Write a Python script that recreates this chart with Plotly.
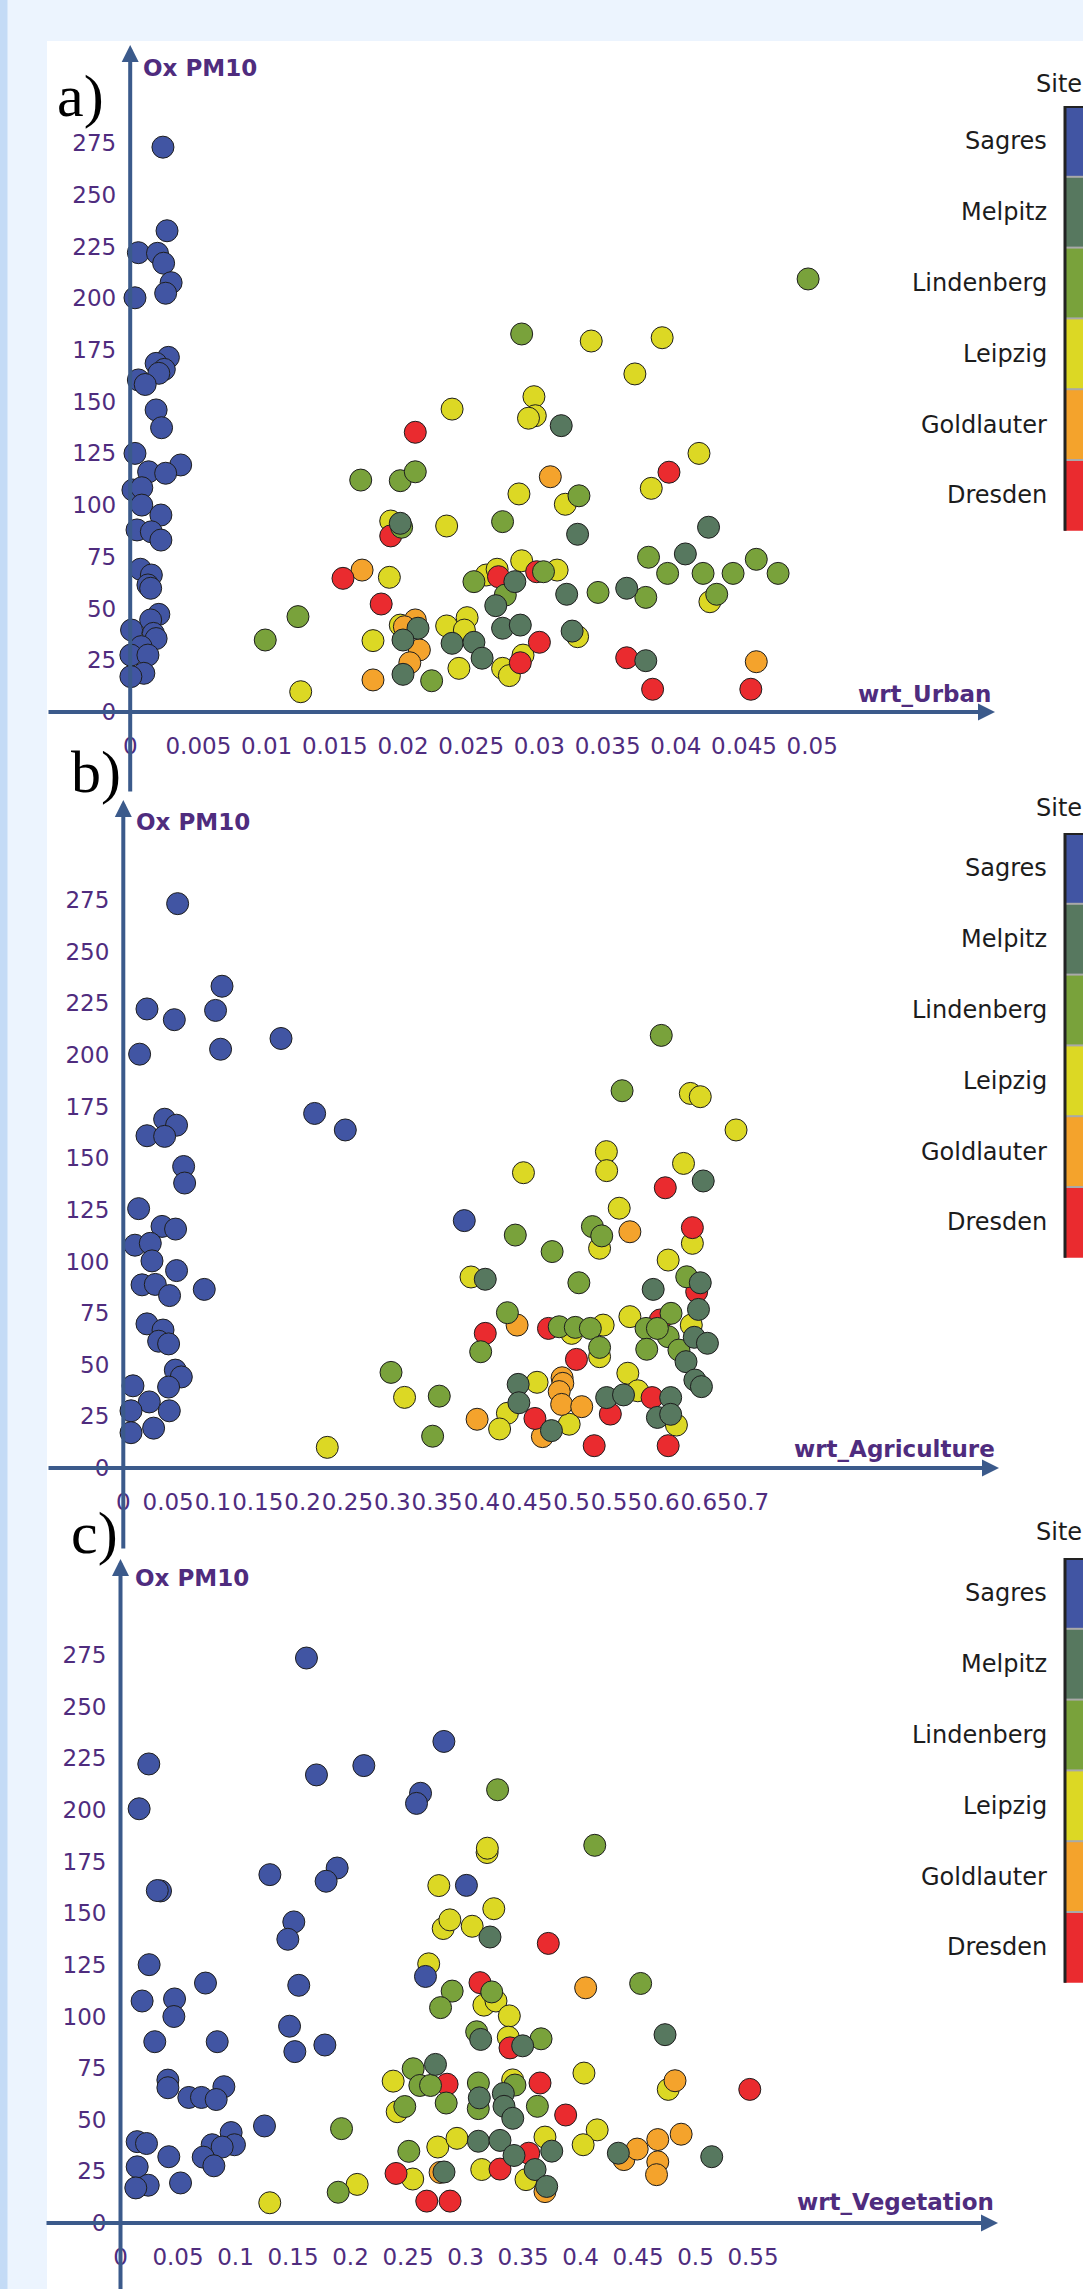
import plotly.graph_objects as go

# ---------------------------------------------------------------- data
SITES = ["Sagres", "Melpitz", "Lindenberg", "Leipzig", "Goldlauter", "Dresden"]
SITE_COLORS = ["#4155a3", "#57785f", "#79a23b", "#dcd824", "#f4a32c", "#ea2b2f"]
DRAW_ORDER = ["Leipzig", "Goldlauter", "Dresden", "Lindenberg", "Melpitz", "Sagres"]

y_ticks = [0, 25, 50, 75, 100, 125, 150, 175, 200, 225, 250, 275]
urban_ticks = [0, 0.005, 0.01, 0.015, 0.02, 0.025, 0.03, 0.035, 0.04, 0.045, 0.05]
agri_ticks = [0, 0.05, 0.1, 0.15, 0.2, 0.25, 0.3, 0.35, 0.4, 0.45, 0.5, 0.55, 0.6, 0.65, 0.7]
veg_ticks = [0, 0.05, 0.1, 0.15, 0.2, 0.25, 0.3, 0.35, 0.4, 0.45, 0.5, 0.55]

# (wrt_Urban, Ox PM10)
urban_sagres = [(0.0024, 273), (0.0027, 232.6), (0.0006, 222), (0.002, 221.7), (0.00245, 216.9),
                (0.003, 207.5), (0.0026, 202.4), (0.00035, 200.2), (0.0028, 171.4), (0.0019, 168.5),
                (0.0025, 165.6), (0.0021, 163.7), (0.0006, 160.5), (0.0011, 158.3), (0.0019, 146),
                (0.0023, 137.4), (0.00035, 125), (0.0037, 119.4), (0.00135, 116.1), (0.0026, 115.4),
                (0.0002, 107.3), (0.00085, 108.4), (0.00085, 100), (0.00225, 95.2), (0.0005, 88),
                (0.00155, 87.1), (0.00225, 83.1), (0.00075, 69), (0.00155, 66.2), (0.0013, 61.4),
                (0.0015, 59.8), (0.0021, 47.2), (0.0015, 44.5), (0.0001, 39.6), (0.0017, 38),
                (0.0019, 35.5), (0.0008, 31.6), (0.00005, 27.5), (0.0013, 27.5), (0.001, 18.7),
                (0.00005, 17.1)]
urban_melpitz = [(0.0316, 138.4), (0.0198, 91.2), (0.0328, 85.9), (0.0424, 89.3), (0.0407, 76.4),
                 (0.0282, 63), (0.032, 56.9), (0.0364, 59.8), (0.0268, 51.4), (0.0273, 40.5),
                 (0.0286, 42), (0.0324, 39.1), (0.0211, 40.5), (0.02, 34.8), (0.0236, 33.2),
                 (0.0252, 33.7), (0.0258, 26), (0.0378, 24.8), (0.02, 18.2)]
urban_lindenberg = [(0.0497, 209.3), (0.0287, 182.7), (0.0169, 112.1), (0.0198, 111.8), (0.0209, 116.1),
                    (0.0329, 104.5), (0.0273, 92), (0.0199, 89.3), (0.038, 74.8), (0.0459, 73.8),
                    (0.0394, 67), (0.042, 67), (0.0442, 67), (0.0475, 67), (0.0303, 67.8),
                    (0.0252, 63), (0.0343, 57.8), (0.0378, 55.4), (0.043, 56.9), (0.0275, 56.5),
                    (0.0123, 46.1), (0.0099, 34.8), (0.0221, 15.1)]
urban_leipzig = [(0.0338, 179.3), (0.039, 180.9), (0.037, 163.4), (0.0296, 152.4), (0.0297, 143.2),
                 (0.0292, 142), (0.0236, 146.4), (0.0417, 125), (0.0382, 108.1), (0.0285, 105.4),
                 (0.0319, 100.4), (0.0232, 89.9), (0.0191, 92.3), (0.019, 65.1), (0.0261, 66.2),
                 (0.0269, 69), (0.0287, 73.1), (0.0313, 68.6), (0.0425, 53.3), (0.0328, 36.4),
                 (0.0198, 42), (0.0232, 41.6), (0.0247, 45.6), (0.0245, 39.6), (0.0178, 34.5),
                 (0.0241, 21.1), (0.0273, 21.1), (0.0278, 17.6), (0.0288, 27.5), (0.0125, 9.8)]
urban_goldlauter = [(0.0308, 113.7), (0.017, 68.6), (0.0209, 44.5), (0.0201, 41.2), (0.0212, 30),
                    (0.0205, 23.8), (0.0178, 15.5), (0.0459, 24.3)]
urban_dresden = [(0.0209, 135.2), (0.0395, 115.9), (0.0191, 85.1), (0.0156, 64.6), (0.0184, 52.2),
                 (0.027, 65.4), (0.0298, 67.8), (0.03, 33.7), (0.0286, 23.8), (0.0364, 26.2),
                 (0.0383, 11), (0.0455, 11)]

# (wrt_Agriculture, Ox PM10)
agri_sagres = [(0.0606, 273.3), (0.1101, 233.3), (0.0264, 222.3), (0.1029, 221.6), (0.0569, 217.1),
               (0.1759, 208), (0.0182, 200.4), (0.1085, 202.8), (0.2134, 171.7), (0.2476, 163.7),
               (0.0461, 168.9), (0.0594, 166), (0.0264, 160.9), (0.0461, 160.6), (0.0673, 146),
               (0.0684, 138), (0.0171, 125.6), (0.3803, 119.8), (0.0432, 117), (0.0583, 115.7),
               (0.013, 107.9), (0.0301, 108.8), (0.032, 100.3), (0.0594, 95.6), (0.0209, 88.7),
               (0.0357, 88.9), (0.0516, 83.5), (0.0903, 86.5), (0.0264, 69.8), (0.0443, 66.8),
               (0.0394, 61.4), (0.0505, 60.1), (0.058, 47.4), (0.0647, 44.1), (0.0108, 39.8),
               (0.0505, 39.2), (0.029, 32), (0.0086, 27.7), (0.0513, 27.7), (0.0338, 19.3),
               (0.0086, 17.1)]
agri_melpitz = [(0.6468, 139), (0.4037, 91.4), (0.591, 86.5), (0.6435, 89.7), (0.6415, 76.8),
                (0.6368, 63.3), (0.6515, 60.4), (0.6276, 51.5), (0.6375, 42.6), (0.6448, 39.4),
                (0.4404, 40.5), (0.4412, 31.6), (0.5391, 34.1), (0.5579, 35.4), (0.6105, 34.1),
                (0.5957, 24.5), (0.6105, 26), (0.4775, 18.1)]
agri_lindenberg = [(0.60, 209.5), (0.2986, 46.3), (0.3524, 34.8), (0.345, 15.4), (0.5563, 182.7),
                   (0.4372, 112.8), (0.4783, 104.8), (0.5232, 116.9), (0.5336, 112.4), (0.5081, 89.7),
                   (0.4284, 75.2), (0.3986, 56.3), (0.4862, 68.4), (0.5041, 68.1), (0.5209, 67.6),
                   (0.5312, 58.4), (0.583, 67.6), (0.5838, 57.5), (0.6109, 74.9), (0.6077, 63.6),
                   (0.6197, 57.1), (0.6284, 92.6), (0.5957, 67.6)]
agri_leipzig = [(0.3137, 34.2), (0.2275, 10), (0.3878, 92.5), (0.6324, 181.4), (0.6435, 179.8),
                (0.6834, 163.7), (0.5388, 153.2), (0.5391, 144), (0.4463, 143), (0.6248, 147.5),
                (0.5531, 125.8), (0.5312, 106.4), (0.6347, 108.8), (0.6077, 100.7), (0.565, 73.3),
                (0.5352, 69.2), (0.5001, 65.2), (0.5312, 53.9), (0.6335, 69.2), (0.5627, 45.9),
                (0.4615, 41.5), (0.5738, 37.4), (0.4284, 26.5), (0.4197, 18.9), (0.4973, 21.2),
                (0.6169, 20.8)]
agri_goldlauter = [(0.565, 114.4), (0.4392, 69.2), (0.4894, 43.7), (0.4902, 41), (0.4862, 37),
                   (0.4889, 30.8), (0.5113, 29.7), (0.3946, 23.6), (0.4674, 15.2)]
agri_dresden = [(0.6045, 135.7), (0.6347, 116.4), (0.4037, 65.2), (0.4742, 67.6), (0.5054, 52.6),
                (0.5989, 71.7), (0.6395, 85.4), (0.4591, 24), (0.5432, 26.1), (0.5898, 34.1),
                (0.5252, 10.8), (0.6077, 10.8)]

# (wrt_Vegetation, Ox PM10)
veg_sagres = [(0.1617, 273.6), (0.2812, 233.2), (0.0246, 222.3), (0.2116, 221.5), (0.1704, 217),
              (0.2609, 208.1), (0.2574, 203.2), (0.0162, 200.6), (0.1299, 168.7), (0.1884, 171.9),
              (0.1788, 165.5), (0.0348, 160.8), (0.032, 161), (0.3008, 163.5), (0.1507, 145.8),
              (0.1455, 137.4), (0.0249, 125.1), (0.2652, 119.4), (0.0739, 116.2), (0.155, 115.1),
              (0.0188, 107.5), (0.047, 108.5), (0.0464, 100), (0.147, 95.3), (0.0298, 87.8),
              (0.0841, 87.8), (0.1777, 86.2), (0.1516, 83), (0.0412, 69.2), (0.0412, 65.5),
              (0.0594, 60.8), (0.0704, 60.8), (0.0899, 66), (0.0832, 59.8), (0.1252, 47),
              (0.0962, 43.8), (0.0991, 37.9), (0.0145, 39.4), (0.0226, 38.5), (0.0797, 37.9),
              (0.0884, 36.8), (0.042, 32.1), (0.0719, 31.9), (0.0145, 27.2), (0.0812, 27.7),
              (0.0522, 19.4), (0.0241, 18.3), (0.0133, 17)]
veg_melpitz = [(0.2739, 76.8), (0.2813, 24.7), (0.3213, 138.5), (0.4735, 91.2), (0.3132, 88.9),
               (0.3497, 85.8), (0.312, 60.6), (0.3329, 62.7), (0.3335, 56.5), (0.3411, 50.7),
               (0.3112, 39.6), (0.33, 40), (0.375, 34.8), (0.3422, 32.7), (0.4329, 33.8),
               (0.5141, 32.1), (0.3605, 25.9), (0.3706, 17.7)]
veg_lindenberg = [(0.1922, 45.7), (0.1893, 14.9), (0.2884, 112.3), (0.2783, 104.3), (0.2545, 74.7),
                  (0.2603, 66.6), (0.2696, 66.6), (0.2472, 56.4), (0.2832, 58.1), (0.2507, 34.7),
                  (0.3279, 209.8), (0.4124, 182.9), (0.4523, 116), (0.3228, 111.9), (0.3097, 92.6),
                  (0.3657, 89.2), (0.3112, 67.8), (0.343, 66.8), (0.3111, 55.4), (0.3625, 56.5)]
veg_leipzig = [(0.1298, 9.8), (0.2058, 18.7), (0.2768, 163.4), (0.2806, 142.6), (0.2864, 146.8),
               (0.268, 125.5), (0.2371, 68.7), (0.2406, 53.9), (0.2759, 36.8), (0.2926, 41),
               (0.2541, 21.3), (0.3188, 179.4), (0.319, 181.5), (0.3246, 152.2), (0.3058, 143.7),
               (0.316, 105.5), (0.3265, 107.5), (0.3381, 100.3), (0.3372, 90), (0.403, 72.6),
               (0.341, 69.3), (0.4763, 64.7), (0.4145, 45.1), (0.4023, 37.9), (0.3691, 41.6),
               (0.3141, 25.9), (0.3526, 21)]
veg_goldlauter = [(0.2779, 24.5), (0.4045, 113.9), (0.4822, 68.9), (0.4377, 30.7), (0.4493, 35.8),
                  (0.4672, 40.4), (0.4875, 43), (0.4672, 29.6), (0.4661, 23.4), (0.3691, 15.2)]
veg_dresden = [(0.284, 67.2), (0.2396, 24), (0.2663, 10.6), (0.2866, 10.6), (0.372, 135.4),
               (0.3126, 116.4), (0.3387, 84.8), (0.3648, 67.8), (0.5472, 64.7), (0.3871, 52.3),
               (0.355, 33.8), (0.33, 26.1)]

urban_data = {"Sagres": urban_sagres, "Melpitz": urban_melpitz, "Lindenberg": urban_lindenberg,
              "Leipzig": urban_leipzig, "Goldlauter": urban_goldlauter, "Dresden": urban_dresden}
agri_data = {"Sagres": agri_sagres, "Melpitz": agri_melpitz, "Lindenberg": agri_lindenberg,
             "Leipzig": agri_leipzig, "Goldlauter": agri_goldlauter, "Dresden": agri_dresden}
veg_data = {"Sagres": veg_sagres, "Melpitz": veg_melpitz, "Lindenberg": veg_lindenberg,
            "Leipzig": veg_leipzig, "Goldlauter": veg_goldlauter, "Dresden": veg_dresden}

# ---------------------------------------------------------------- page geometry (pixels)
W, H = 1083, 2289
AXIS_COLOR = "#3b5a8b"
TEXT_PURPLE = "#4f2c7e"
TICK_FONT = dict(family="DejaVu Sans", size=23, color=TEXT_PURPLE)

PANELS = [
    dict(data=urban_data, ticks=urban_ticks, xtitle="wrt_Urban", tag="a)",
         ox=130.2, oy=712.0, sx=13640.0, sy=2.069,
         x_left=47, x_tip=995, y_tip=45, y_bottom=793, top=40, bottom=800,
         xtitle_y=693.5, ytitle_x=141, ytitle_y=68, tag_x=55, tag_y=96,
         legend_title_y=84, legend_top=106),
    dict(data=agri_data, ticks=agri_ticks, xtitle="wrt_Agriculture", tag="b)",
         ox=123.3, oy=1468.0, sx=896.6, sy=2.065,
         x_left=47, x_tip=999, y_tip=800, y_bottom=1550, top=796, bottom=1556,
         xtitle_y=1449, ytitle_x=134, ytitle_y=822, tag_x=69, tag_y=772,
         legend_title_y=808, legend_top=833),
    dict(data=veg_data, ticks=veg_ticks, xtitle="wrt_Vegetation", tag="c)",
         ox=120.5, oy=2223.0, sx=1150.0, sy=2.065,
         x_left=45, x_tip=998, y_tip=1559, y_bottom=2295, top=1555, bottom=2289,
         xtitle_y=2202, ytitle_x=132.6, ytitle_y=1578, tag_x=69, tag_y=1533,
         legend_title_y=1532, legend_top=1558),
]
DOMAIN_X = (45, 1005)
BLOCK_H = 70.8
LEGEND_X0 = 1064


def px(x):
    return x / W


def py(y):
    return 1 - y / H


fig = go.Figure()
shapes = [
    dict(type="rect", xref="paper", yref="paper", x0=0, x1=px(7.5), y0=0, y1=1,
         fillcolor="#c4dbf6", line=dict(width=0), layer="below"),
    dict(type="rect", xref="paper", yref="paper", x0=px(47), x1=1, y0=0, y1=py(41),
         fillcolor="white", line=dict(width=0), layer="below"),
]
annotations = []
layout_axes = {}

for i, p in enumerate(PANELS):
    n = "" if i == 0 else str(i + 1)
    xref, yref = "x" + n, "y" + n
    ox, oy, sx, sy = p["ox"], p["oy"], p["sx"], p["sy"]

    def xv(pxv):
        return (pxv - ox) / sx

    def yv(pyv):
        return (oy - pyv) / sy

    for site in DRAW_ORDER:
        pts = p["data"][site]
        fig.add_trace(go.Scatter(
            x=[a for a, _ in pts], y=[b for _, b in pts], mode="markers",
            name=site, showlegend=False, cliponaxis=False,
            xaxis=xref, yaxis=yref,
            marker=dict(size=22, color=SITE_COLORS[SITES.index(site)],
                        line=dict(width=1, color="#1e1e1e")),
        ))

    layout_axes["xaxis" + n] = dict(
        domain=[px(DOMAIN_X[0]), px(DOMAIN_X[1])],
        range=[xv(DOMAIN_X[0]), xv(DOMAIN_X[1])],
        anchor="free", position=py(oy),
        showgrid=False, zeroline=False, showline=False, ticks="",
        tickmode="array", tickvals=p["ticks"], ticktext=[f"{v:g}" for v in p["ticks"]],
        tickangle=0, tickfont=TICK_FONT, ticklabelstandoff=18,
    )
    layout_axes["yaxis" + n] = dict(
        domain=[py(p["bottom"]), py(p["top"])],
        range=[yv(p["bottom"]), yv(p["top"])],
        anchor="free", position=px(ox),
        showgrid=False, zeroline=False, showline=False, ticks="",
        tickmode="array", tickvals=y_ticks, ticktext=[str(v) for v in y_ticks],
        tickfont=TICK_FONT, ticklabelstandoff=14,
    )

    # axis arrows through the origin
    arrow = dict(text="", showarrow=True, arrowhead=2, arrowsize=0.85, arrowwidth=4,
                 arrowcolor=AXIS_COLOR, standoff=0, xref=xref, yref=yref,
                 axref=xref, ayref=yref)
    annotations.append(dict(arrow, x=xv(p["x_tip"]), y=0, ax=xv(p["x_left"]), ay=0))
    annotations.append(dict(arrow, x=0, y=yv(p["y_tip"]), ax=0, ay=yv(p["y_bottom"])))

    # axis titles
    title_font = dict(family="DejaVu Sans", size=23, color=TEXT_PURPLE, weight="bold")
    annotations.append(dict(text="Ox PM10", xref="paper", yref="paper", showarrow=False,
                            x=px(p["ytitle_x"]), y=py(p["ytitle_y"]),
                            xanchor="left", yanchor="middle", font=title_font))
    annotations.append(dict(text=p["xtitle"], xref="paper", yref="paper", showarrow=False,
                            x=px(p["x_tip"] - 2), y=py(p["xtitle_y"]),
                            xanchor="right", yanchor="middle", font=title_font))
    # panel tag
    annotations.append(dict(text=p["tag"], xref="paper", yref="paper", showarrow=False,
                            x=px(p["tag_x"]), y=py(p["tag_y"]), xanchor="left", yanchor="middle",
                            font=dict(family="Liberation Serif", size=60, color="black")))

    # site key: title, colour blocks and labels
    annotations.append(dict(text="Site", xref="paper", yref="paper", showarrow=False,
                            x=px(1059), y=py(p["legend_title_y"]), xanchor="center",
                            yanchor="middle",
                            font=dict(family="DejaVu Sans", size=24, color="#1c1c1c")))
    top = p["legend_top"]
    for k, (site, col) in enumerate(zip(SITES, SITE_COLORS)):
        y0 = top + k * BLOCK_H
        shapes.append(dict(type="rect", xref="paper", yref="paper",
                           x0=px(LEGEND_X0), x1=px(W + 10), y0=py(y0 + BLOCK_H), y1=py(y0),
                           fillcolor=col, line=dict(width=0)))
        if k > 0:
            shapes.append(dict(type="line", xref="paper", yref="paper",
                               x0=px(LEGEND_X0), x1=px(W + 10), y0=py(y0), y1=py(y0),
                               line=dict(color="#a9a9a9", width=2)))
        annotations.append(dict(text=site, xref="paper", yref="paper", showarrow=False,
                                x=px(1049), y=py(y0 + BLOCK_H / 2), xanchor="right",
                                yanchor="middle",
                                font=dict(family="DejaVu Sans", size=24, color="#1c1c1c")))
    shapes.append(dict(type="line", xref="paper", yref="paper",
                       x0=px(LEGEND_X0 + 1), x1=px(LEGEND_X0 + 1), y0=py(top + 6 * BLOCK_H), y1=py(top),
                       line=dict(color="#222222", width=3)))
    shapes.append(dict(type="line", xref="paper", yref="paper",
                       x0=px(LEGEND_X0), x1=px(W + 10), y0=py(top + 1), y1=py(top + 1),
                       line=dict(color="#222222", width=2)))

fig.update_layout(
    width=W, height=H, autosize=False,
    margin=dict(l=0, r=0, t=0, b=0, pad=0),
    paper_bgcolor="#ecf4fe", plot_bgcolor="rgba(0,0,0,0)",
    shapes=shapes, annotations=annotations, showlegend=False,
    **layout_axes,
)

fig.write_html("out.html")
